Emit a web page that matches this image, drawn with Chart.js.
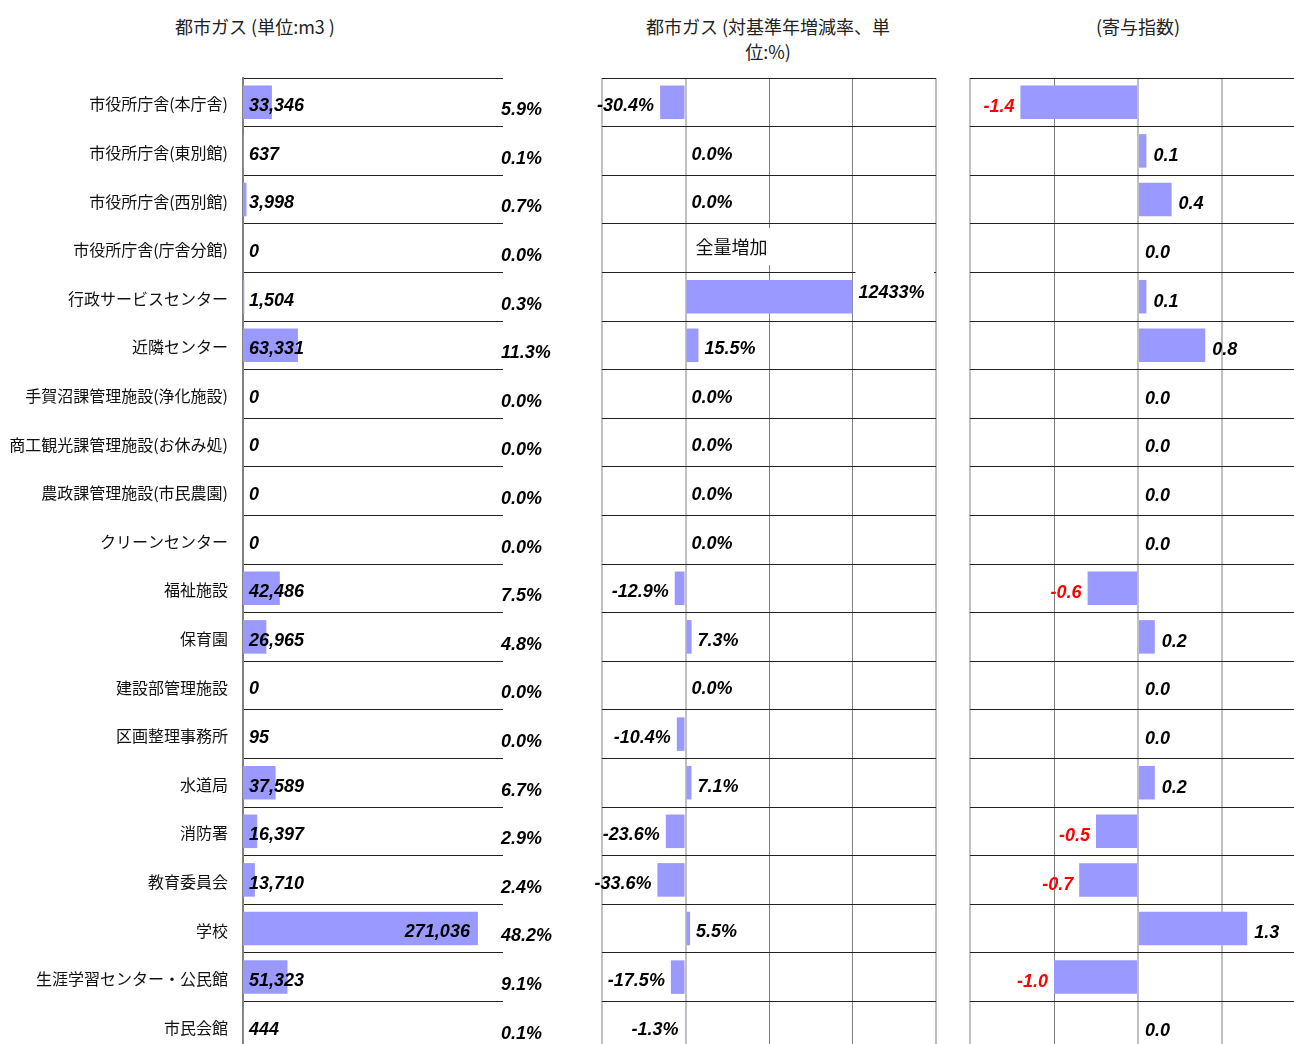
<!DOCTYPE html>
<html lang="ja">
<head>
<meta charset="utf-8">
<script src="https://cdn.jsdelivr.net/npm/chart.js@4.4.1/dist/chart.umd.min.js"></script>
<style>
  html, body { margin: 0; padding: 0; background: #fff; overflow: hidden; }
  body { width: 1294px; height: 1044px; position: relative; font-family: "Noto Sans CJK JP", sans-serif; }
  .title { position: absolute; transform: translateX(-50%); font-size: 18px; line-height: 25px; color: #222; text-align: center; white-space: nowrap; }
  canvas { position: absolute; top: 0; }
</style>
</head>
<body>
<div class="title" style="left:255px; top:14px;">都市ガス (単位:m3 )</div>
<div class="title" style="left:768px; top:14px;">都市ガス (対基準年増減率、単<br>位:%)</div>
<div class="title" style="left:1138px; top:14px;">(寄与指数)</div>

<canvas id="volume" width="560" height="1060" style="left:0px"></canvas>
<canvas id="rate" width="395" height="1060" style="left:565px"></canvas>
<canvas id="contrib" width="350" height="1060" style="left:960px"></canvas>

<script>
// facilities
const categories = [
  "市役所庁舎(本庁舎)", "市役所庁舎(東別館)", "市役所庁舎(西別館)", "市役所庁舎(庁舎分館)",
  "行政サービスセンター", "近隣センター", "手賀沼課管理施設(浄化施設)", "商工観光課管理施設(お休み処)",
  "農政課管理施設(市民農園)", "クリーンセンター", "福祉施設", "保育園", "建設部管理施設",
  "区画整理事務所", "水道局", "消防署", "教育委員会", "学校", "生涯学習センター・公民館", "市民会館"
];
// city gas volume (m3) and share of total (%)
const gasVolume = [33346, 637, 3998, 0, 1504, 63331, 0, 0, 0, 0, 42486, 26965, 0, 95, 37589, 16397, 13710, 271036, 51323, 444];
const gasShare = [5.9, 0.1, 0.7, 0.0, 0.3, 11.3, 0.0, 0.0, 0.0, 0.0, 7.5, 4.8, 0.0, 0.0, 6.7, 2.9, 2.4, 48.2, 9.1, 0.1];
// change vs base year (%), null = 全量増加
const changeRate = [-30.4, 0.0, 0.0, null, 12433, 15.5, 0.0, 0.0, 0.0, 0.0, -12.9, 7.3, 0.0, -10.4, 7.1, -23.6, -33.6, 5.5, -17.5, -1.3];
// contribution index
const contribution = [-1.4, 0.1, 0.4, 0.0, 0.1, 0.8, 0.0, 0.0, 0.0, 0.0, -0.6, 0.2, 0.0, 0.0, 0.2, -0.5, -0.7, 1.3, -1.0, 0.0];

const rateCap = 200; // bars beyond this are cut off
const changeRateBar = changeRate.map(v => v === null ? null : Math.min(v, rateCap));

const barColor = "#9999ff";
const valueFont = "italic bold 18px 'Liberation Sans', Arial, sans-serif";
const light = "#c0c0c0", dark = "#808080";

Chart.defaults.font.family = "'Noto Sans CJK JP', sans-serif";
Chart.defaults.animation = false;

function baseOptions(padding) {
  return {
    responsive: false,
    indexAxis: "y",
    layout: { padding },
    plugins: { legend: { display: false }, tooltip: { enabled: false } },
    scales: {}
  };
}

function rowGrid() {
  return { offset: true, color: "#222", lineWidth: 1, drawTicks: false };
}

// keep the row axis from adding its own padding
function fitRows(width) {
  return s => { s.width = width; s.paddingTop = 0; s.paddingBottom = 0; };
}

// panel 1: volume
const volumeLabels = {
  id: "volumeLabels",
  afterDatasetsDraw(chart) {
    const ctx = chart.ctx, xs = chart.scales.x, ys = chart.scales.y;
    ctx.save();
    ctx.font = valueFont;
    ctx.fillStyle = "#000";
    ctx.textBaseline = "middle";
    gasVolume.forEach((v, i) => {
      const y = ys.getPixelForValue(i);
      const xe = xs.getPixelForValue(v);
      const txt = v.toLocaleString("en-US");
      if (xe - xs.left > 150) {
        ctx.textAlign = "right";
        ctx.fillText(txt, xe - 8, y + 4);
      } else {
        ctx.textAlign = "left";
        ctx.fillText(txt, xs.left + 6, y + 4);
      }
      ctx.textAlign = "left";
      ctx.fillText(gasShare[i].toFixed(1) + "%", chart.chartArea.right - 2, y + 8);
    });
    ctx.restore();
  }
};

const opt1 = baseOptions({ top: 78, bottom: 10, left: 0, right: 57 });
opt1.scales = {
  x: { display: false, min: 0, max: 300000 },
  y: {
    grid: rowGrid(),
    border: { display: true, color: dark, width: 2 },
    ticks: { color: "#111", font: { size: 16 }, padding: 15, labelOffset: 2 },
    afterFit: fitRows(243)
  }
};
new Chart(document.getElementById("volume"), {
  type: "bar",
  data: { labels: categories, datasets: [{ data: gasVolume, backgroundColor: barColor, barPercentage: 0.69, categoryPercentage: 1 }] },
  options: opt1,
  plugins: [volumeLabels]
});

// panel 2: change rate
const rateLabels = {
  id: "rateLabels",
  afterDatasetsDraw(chart) {
    const ctx = chart.ctx, xs = chart.scales.x, ys = chart.scales.y;
    ctx.save();
    ctx.textBaseline = "middle";
    changeRate.forEach((v, i) => {
      const y = ys.getPixelForValue(i);
      if (v === null) {
        const x0 = xs.getPixelForValue(0);
        ctx.fillStyle = "#fff";
        ctx.fillRect(x0 + 5, y - 20, 82, 37);
        ctx.fillStyle = "#111";
        ctx.font = "18px 'Noto Sans CJK JP', sans-serif";
        ctx.textAlign = "left";
        ctx.fillText("全量増加", x0 + 10, y - 1);
        return;
      }
      const xe = xs.getPixelForValue(changeRateBar[i]);
      const txt = v.toFixed(v >= 1000 ? 0 : 1) + "%";
      ctx.font = valueFont;
      ctx.fillStyle = "#000";
      if (v > rateCap) {
        ctx.fillStyle = "#fff";
        ctx.fillRect(xe + 3, y - 30, xs.right - xe - 5, 45);
        ctx.fillStyle = "#000";
        ctx.textAlign = "left";
        ctx.fillText(txt, xe + 6, y - 4);
      } else if (v < 0) {
        ctx.textAlign = "right";
        ctx.fillText(txt, xe - 6, y + 4);
      } else {
        ctx.textAlign = "left";
        ctx.fillText(txt, xe + 6, y + 4);
      }
    });
    ctx.restore();
  }
};

const opt2 = baseOptions({ top: 78, bottom: 10, left: 37, right: 24 });
opt2.scales = {
  x: {
    min: -100, max: 300,
    ticks: { display: false, stepSize: 100 },
    grid: {
      drawTicks: false,
      color: c => (c.tick && (c.tick.value === 100 || c.tick.value === 200)) ? dark : light,
      lineWidth: c => (c.tick && (c.tick.value === 100 || c.tick.value === 200)) ? 1 : 2
    },
    border: { display: false },
    afterFit: s => { s.height = 0; }
  },
  y: {
    grid: rowGrid(),
    border: { display: false },
    ticks: { display: false },
    afterFit: fitRows(0)
  }
};
new Chart(document.getElementById("rate"), {
  type: "bar",
  data: { labels: categories, datasets: [{ data: changeRateBar, backgroundColor: barColor, barPercentage: 0.69, categoryPercentage: 1 }] },
  options: opt2,
  plugins: [rateLabels]
});

// panel 3: contribution index
const contribLabels = {
  id: "contribLabels",
  afterDatasetsDraw(chart) {
    const ctx = chart.ctx, xs = chart.scales.x, ys = chart.scales.y;
    ctx.save();
    ctx.font = valueFont;
    ctx.textBaseline = "middle";
    contribution.forEach((v, i) => {
      const y = ys.getPixelForValue(i);
      const xe = xs.getPixelForValue(v);
      if (v < 0) {
        ctx.fillStyle = "#ff0000";
        ctx.textAlign = "right";
        ctx.fillText(v.toFixed(1), xe - 6, y + 5);
      } else {
        ctx.fillStyle = "#000";
        ctx.textAlign = "left";
        ctx.fillText(v.toFixed(1), xe + 7, y + 5);
      }
    });
    ctx.restore();
  }
};

const opt3 = baseOptions({ top: 78, bottom: 10, left: 10, right: 4 });
opt3.scales = {
  x: {
    min: -2, max: 2,
    ticks: { display: false, stepSize: 1 },
    grid: {
      drawTicks: false,
      color: c => (c.tick && c.tick.value === -1) ? dark : light,
      lineWidth: c => (c.tick && c.tick.value === -1) ? 1 : 2
    },
    border: { display: false },
    afterFit: s => { s.height = 0; }
  },
  y: {
    grid: rowGrid(),
    border: { display: false },
    ticks: { display: false },
    afterFit: fitRows(0)
  }
};
new Chart(document.getElementById("contrib"), {
  type: "bar",
  data: { labels: categories, datasets: [{ data: contribution, backgroundColor: barColor, barPercentage: 0.69, categoryPercentage: 1 }] },
  options: opt3,
  plugins: [contribLabels]
});
</script>
</body>
</html>
